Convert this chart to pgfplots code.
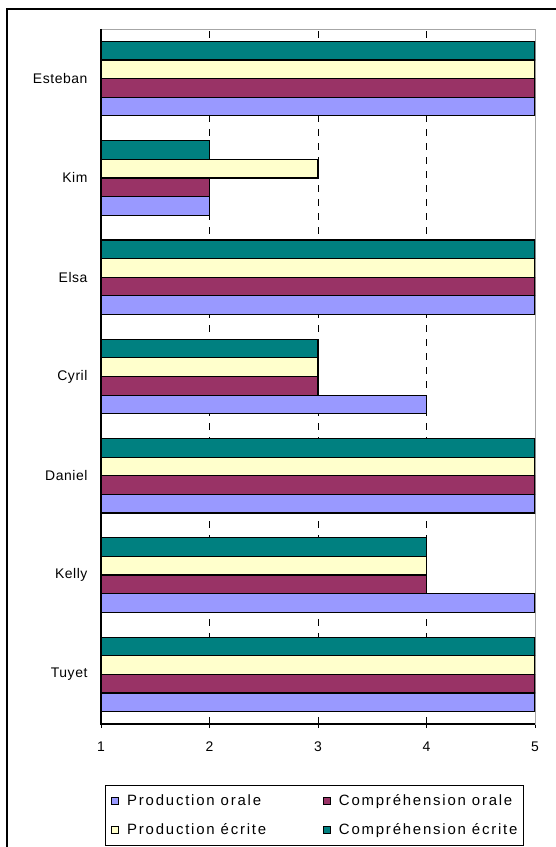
\documentclass[border=0pt]{standalone}
\usepackage{graphicx}
\usepackage{pgfplots}
\pgfplotsset{compat=1.18}
\usepackage{pgfplotstable}
\usepackage{fontspec}
\setmainfont{Liberation Sans}
\newfontfamily\legfont[Scale=1.5, LetterSpace=12]{Liberation Sans}
\newfontfamily\tickfont[LetterSpace=4]{Liberation Sans}
\newcommand\mylab[1]{\scalebox{1.4}{\tickfont #1}}
\definecolor{po}{HTML}{9999FF}
\definecolor{co}{HTML}{993366}
\definecolor{pe}{HTML}{FFFFCC}
\definecolor{ce}{HTML}{008080}
\pgfplotstableread{
y PO CO PE CE
0 5 5 5 5
1 5 4 4 4
2 5 5 5 5
3 4 3 3 3
4 5 5 5 5
5 2 2 3 2
6 5 5 5 5
}\data
\begin{document}
\begin{tikzpicture}
\path[use as bounding box] (0,0) rectangle (556bp,847bp);
\draw[line width=1.2bp] (7bp,-2bp) -- (7bp,838bp) -- (560bp,838bp);
\begin{axis}[
  name=ax,
  at={(101bp,123bp)}, anchor=south west,
  scale only axis, width=434bp, height=695bp,
  xbar, bar width=0.1875,
  xmin=1, xmax=5, ymin=-0.5, ymax=6.5,
  xtick={1,2,3,4,5},
  xticklabels={\mylab{1},\mylab{2},\mylab{3},\mylab{4},\mylab{5}},
  minor xtick={2,3,4},
  xminorgrids,
  minor grid style={black, line width=0.8bp, dash pattern=on 7bp off 7bp},
  minor x tick style={draw=none},
  ytick={0,...,6},
  yticklabels={\mylab{Tuyet},\mylab{Kelly},\mylab{Daniel},\mylab{Cyril},\mylab{Elsa},\mylab{Kim},\mylab{Esteban}},
  minor ytick={-0.5,0.5,...,6.5},
  ytick style={draw=none},
  minor y tick style={black, line width=0.8bp},
  minor tick length=4bp,
  tick align=outside,
  xtick style={black, line width=0.8bp, yshift=4bp},
  major tick length=8bp,
  xtick pos=bottom, ytick pos=left,
  axis line style={draw=gray!70, line width=1bp},
  xticklabel style={yshift=-6bp},
  yticklabel style={xshift=-2bp},
  legend columns=2,
  legend cell align=left,
  legend style={at={(0.0092,-0.0878)}, anchor=north west, draw=black, line width=0.8bp,
    font=\legfont, inner xsep=6bp, inner ysep=7bp, row sep=13bp,
    /tikz/every odd column/.append style={column sep=6bp},
    /tikz/every even column/.append style={column sep=0bp}},
  legend image code/.code={\draw[#1, draw=black, line width=0.8bp] (0bp,-3.5bp) rectangle (7bp,3.5bp);},
  every axis plot/.append style={draw=black, line width=1.2bp},
]
\addplot[fill=po, bar shift=-0.28125] table[x=PO, y=y] {\data};
\addplot[fill=co, bar shift=-0.09375] table[x=CO, y=y] {\data};
\addplot[fill=pe, bar shift=0.09375] table[x=PE, y=y] {\data};
\addplot[fill=ce, bar shift=0.28125] table[x=CE, y=y] {\data};
\addlegendentry{\makebox[194bp][l]{Production orale}}
\addlegendentry{\makebox[176bp][l]{Compréhension orale}}
\addlegendentry{\makebox[194bp][l]{Production écrite}}
\addlegendentry{\makebox[176bp][l]{Compréhension écrite}}
\end{axis}
\draw[black, line width=1.2bp] (ax.north west) -- (ax.south west) -- (ax.south east);
\end{tikzpicture}
\end{document}
